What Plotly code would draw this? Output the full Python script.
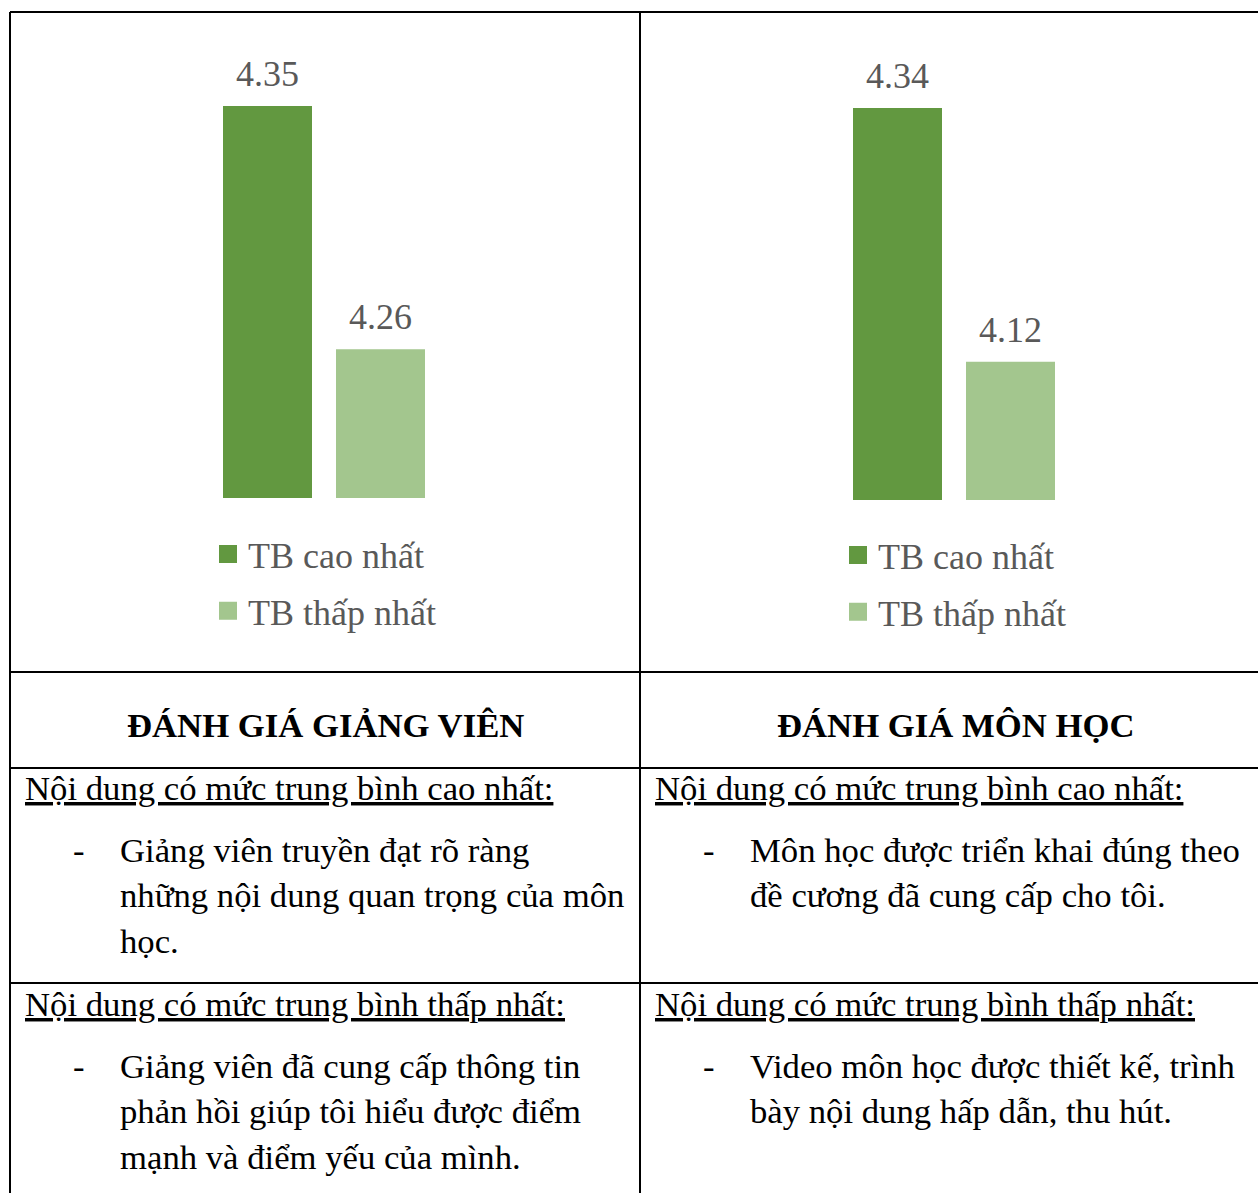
import plotly.graph_objects as go

# ---- data -------------------------------------------------------------
series_names = ["TB cao nhất", "TB thấp nhất"]
series_colors = ["#629840", "#a3c68e"]

lecturer_scores = [4.35, 4.26]   # Đánh giá giảng viên
course_scores = [4.34, 4.12]     # Đánh giá môn học

panel_titles = ["ĐÁNH GIÁ GIẢNG VIÊN", "ĐÁNH GIÁ MÔN HỌC"]
highest_heading = "Nội dung có mức trung bình cao nhất:"
lowest_heading = "Nội dung có mức trung bình thấp nhất:"

lecturer_highest = ["Giảng viên truyền đạt rõ ràng",
                    "những nội dung quan trọng của môn",
                    "học."]
lecturer_lowest = ["Giảng viên đã cung cấp thông tin",
                   "phản hồi giúp tôi hiểu được điểm",
                   "mạnh và điểm yếu của mình."]
course_highest = ["Môn học được triển khai đúng theo",
                  "đề cương đã cung cấp cho tôi."]
course_lowest = ["Video môn học được thiết kế, trình",
                 "bày nội dung hấp dẫn, thu hút."]

# ---- page geometry (pixels) -------------------------------------------
W, H = 1258, 1193
SERIF = "Liberation Serif, Times New Roman, DejaVu Serif, serif"
CHART_TEXT = "#595959"
BODY_SIZE = 34.7


def px(x):
    return x / W


def py(y):
    return 1 - y / H


panels = [
    dict(scores=lecturer_scores, xa="x", ya="y", legend="legend",
         dom_x=(211, 437), dom_y=(40, 498), ymin=4.205, ytop=4.3744,
         legend_x=208, legend_y=524),
    dict(scores=course_scores, xa="x2", ya="y2", legend="legend2",
         dom_x=(841, 1067), dom_y=(40, 500), ymin=4.0, ytop=4.399,
         legend_x=838, legend_y=525),
]

fig = go.Figure()
annotations = []

for p in panels:
    for name, color, score in zip(series_names, series_colors, p["scores"]):
        fig.add_trace(go.Bar(
            x=[name], y=[score], name=name,
            marker=dict(color=color, line=dict(width=0)),
            xaxis=p["xa"], yaxis=p["ya"],
            showlegend=False, hoverinfo="skip",
        ))
        # value label above each bar
        annotations.append(dict(
            x=name, y=score, xref=p["xa"], yref=p["ya"],
            text=f"{score:.2f}", showarrow=False,
            xanchor="center", yanchor="bottom", yshift=10,
            font=dict(family=SERIF, size=36, color=CHART_TEXT),
        ))
    # legend entries with square swatches
    for i, (name, color) in enumerate(zip(series_names, series_colors)):
        fig.add_trace(go.Scatter(
            x=[None], y=[None], mode="markers", name=name,
            marker=dict(symbol="square", size=16, color=color,
                        line=dict(width=2, color=color)),
            xaxis=p["xa"], yaxis=p["ya"],
            legend=p["legend"], legendgroup=f"{p['legend']}_{i}",
            showlegend=True, hoverinfo="skip",
        ))

# ---- table text -------------------------------------------------------
def add_text(text, x, y_center, anchor="left", bold=False, size=BODY_SIZE):
    annotations.append(dict(
        x=px(x), y=py(y_center), xref="paper", yref="paper",
        text=f"<b>{text}</b>" if bold else text, showarrow=False,
        xanchor=anchor, yanchor="middle",
        font=dict(family=SERIF, size=size, color="#000000"),
    ))


def add_block(lines, dash_x, text_x, first_center, step=45.5):
    add_text("-", dash_x, first_center)
    for k, line in enumerate(lines):
        add_text(line, text_x, first_center + k * step)


col_offset = 630
add_text(panel_titles[0], 325, 725, anchor="center", bold=True)
add_text(panel_titles[1], 325 + col_offset, 725, anchor="center", bold=True)

for off, hi_lines, lo_lines in [(0, lecturer_highest, lecturer_lowest),
                                (col_offset, course_highest, course_lowest)]:
    add_text(f"<u>{highest_heading}</u>", 23 + off, 788)
    add_block(hi_lines, 71 + off, 118 + off, 850)
    add_text(f"<u>{lowest_heading}</u>", 23 + off, 1004)
    add_block(lo_lines, 71 + off, 118 + off, 1066)

# ---- table rules ------------------------------------------------------
line_style = dict(color="#000000", width=2)
shapes = []
for y in (12, 672, 768, 983):
    shapes.append(dict(type="line", xref="paper", yref="paper",
                       x0=px(10), x1=1.0, y0=py(y), y1=py(y), line=line_style))
for x in (10, 640):
    shapes.append(dict(type="line", xref="paper", yref="paper",
                       x0=px(x), x1=px(x), y0=py(12), y1=0.0, line=line_style))

# ---- layout -----------------------------------------------------------
layout_axes = {}
for k, p in enumerate(panels):
    sx = "" if k == 0 else str(k + 1)
    layout_axes[f"xaxis{sx}"] = dict(
        domain=[px(p["dom_x"][0]), px(p["dom_x"][1])],
        type="category", categoryorder="array", categoryarray=series_names,
        range=[-0.5, 1.5], visible=False, fixedrange=True,
        anchor=p["ya"],
    )
    layout_axes[f"yaxis{sx}"] = dict(
        domain=[py(p["dom_y"][1]), py(p["dom_y"][0])],
        range=[p["ymin"], p["ytop"]], visible=False, fixedrange=True,
        anchor=p["xa"],
    )
    layout_axes[p["legend"]] = dict(
        x=px(p["legend_x"]), y=py(p["legend_y"]),
        xanchor="left", yanchor="top",
        font=dict(family=SERIF, size=36, color=CHART_TEXT),
        bgcolor="rgba(0,0,0,0)", borderwidth=0,
        traceorder="grouped", tracegroupgap=7,
        itemclick=False, itemdoubleclick=False,
    )

fig.update_layout(
    width=W, height=H,
    margin=dict(l=0, r=0, t=0, b=0),
    paper_bgcolor="#ffffff", plot_bgcolor="#ffffff",
    barmode="overlay", bargap=0.2124,
    showlegend=True,
    annotations=annotations, shapes=shapes,
    **layout_axes,
)

fig.write_html("out.html", config={"displayModeBar": False})
